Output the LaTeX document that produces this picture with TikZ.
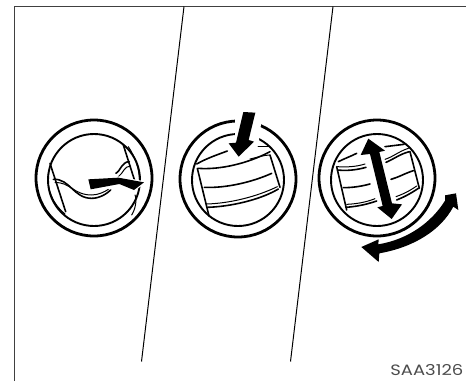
\documentclass[tikz,border=0pt]{standalone}
\usepackage{fontspec}
\setmainfont{Poppins}
\newfontfamily\codefont[FakeStretch=1.2]{Poppins}
\tikzset{
  frameline/.style={line width=1pt,draw=black!75},
  divider/.style={line width=1pt,draw=black},
  ringouter/.style={line width=2.8pt,draw=black},
  ringinner/.style={line width=1.9pt,draw=black},
  vane/.style={line width=1.6pt,draw=black,line cap=round},
  thinvane/.style={line width=1pt,draw=black,line cap=round},
  solidarrow/.style={fill=black,preaction={draw=white,line width=2.4pt,line join=round}},
  zoomed/.style={scale=1/3}
}
\begin{document}
\begin{tikzpicture}[x=1pt,y=-1pt]
\useasboundingbox (0,0) rectangle (466,381);
% frame
\coordinate (fbl) at (14,381);
\coordinate (ftl) at (14,6.5);
\coordinate (ftr) at (466,6.5);
\draw[frameline] (fbl) -- (ftl) -- (ftr);
\coordinate (d1a) at (184,6.5); \coordinate (d1b) at (141.5,361.5);
\coordinate (d2a) at (333,6.5); \coordinate (d2b) at (290.5,361.5);
\draw[divider] (d1a) -- (d1b);
\draw[divider] (d2a) -- (d2b);
% left vent
\draw[ringouter] (94,178) circle (58);
\draw[ringinner] (94,180) circle (46);
\begin{scope}[shift={(20,110)},zoomed]
 \draw[vane] (90,160) -- (137,305);
 \draw[vane] (310,105) -- (345,215);
 \draw[thinvane] (85,190) .. controls (78,235) and (100,285) .. (135,312);
 \draw[thinvane] (325,110) .. controls (345,140) and (360,180) .. (358,215);
 \draw[thinvane] (345,255) .. controls (352,270) and (345,300) .. (335,315);
 \draw[vane] (100,208) .. controls (150,205) and (160,265) .. (215,265) .. controls (240,265) and (262,250) .. (272,240);
 \draw[thinvane] (105,218) .. controls (150,215) and (160,255) .. (215,255) .. controls (235,255) and (255,245) .. (265,238);
 \draw[vane] (288,190) .. controls (300,185) and (305,155) .. (328,155);
 \draw[thinvane] (295,200) .. controls (310,190) and (312,168) .. (332,168);
 \path[solidarrow] (205,208) -- (295,203) -- (372,217) -- (342,240) -- (298,222) -- (212,238) -- cycle;
\end{scope}
% middle vent
\draw[ringouter] (238,179) circle (58);
\draw[ringinner] (238,180) circle (46);
\fill[white] (235,116) -- (262,116) -- (258,148) -- (235,142) -- cycle;
\begin{scope}[shift={(170,90)},zoomed]
 \draw[vane] (80,222) .. controls (110,205) and (140,195) .. (172,183);
 \draw[vane] (85,235) .. controls (150,240) and (235,220) .. (300,185);
 \draw[thinvane] (240,207) .. controls (260,203) and (280,195) .. (300,195);
 \draw[vane] (265,170) -- (298,170);
 \draw[vane] (103,292) .. controls (170,295) and (250,275) .. (305,250);
 \draw[vane] (112,352) .. controls (180,350) and (270,330) .. (325,297);
 \draw[thinvane] (110,342) .. controls (180,340) and (260,320) .. (322,290);
 \draw[vane] (82,235) -- (117,378);
 \draw[vane] (300,195) -- (330,292);
 \path[solidarrow] (220,66) -- (256,68) -- (236,150) -- (252,155) -- (206,200) -- (176,160) -- (198,158) -- cycle;
\end{scope}
% right vent
\draw[ringouter] (377,178) circle (58);
\draw[ringinner] (377,180) circle (46);
\begin{scope}[shift={(310,110)},zoomed]
 \draw[vane] (80,170) -- (110,300);
 \draw[vane] (300,125) -- (328,235);
 \draw[vane] (85,155) .. controls (105,145) and (120,140) .. (140,130);
 \draw[vane] (82,180) .. controls (110,183) and (140,180) .. (168,172);
 \draw[thinvane] (82,170) .. controls (110,172) and (140,170) .. (165,162);
 \draw[vane] (100,233) .. controls (125,233) and (150,230) .. (180,222);
 \draw[vane] (108,292) .. controls (135,290) and (165,285) .. (200,273);
 \draw[thinvane] (110,283) .. controls (135,282) and (165,278) .. (195,266);
 \draw[vane] (225,110) -- (282,103);
 \draw[vane] (228,157) .. controls (250,148) and (270,132) .. (298,125);
 \draw[thinvane] (225,148) .. controls (250,140) and (265,125) .. (295,115);
 \draw[vane] (243,208) .. controls (265,202) and (285,190) .. (310,182);
 \draw[vane] (260,270) .. controls (280,262) and (300,252) .. (325,235);
 \draw[thinvane] (258,260) .. controls (280,252) and (295,245) .. (320,228);
 \path[solidarrow] (175,86) -- (225,122) -- (208,126) -- (246,280) -- (276,283) -- (245,327) -- (202,292) -- (218,288) -- (180,132) -- (152,135) -- cycle;
 \path[solidarrow] (438,250) -- (445,300) -- (430,290) .. controls (392,362) and (310,412) .. (208,430) -- (206,456) -- (154,411) -- (206,388) -- (205,403) .. controls (296,388) and (366,335) .. (405,272) -- (405,256) -- cycle;
\end{scope}
\node[inner sep=0pt,anchor=base east,text=black!70,font=\codefont\fontsize{15pt}{17pt}\selectfont] (code) at (463.5,375) {SAA3126};
\end{tikzpicture}
\end{document}
